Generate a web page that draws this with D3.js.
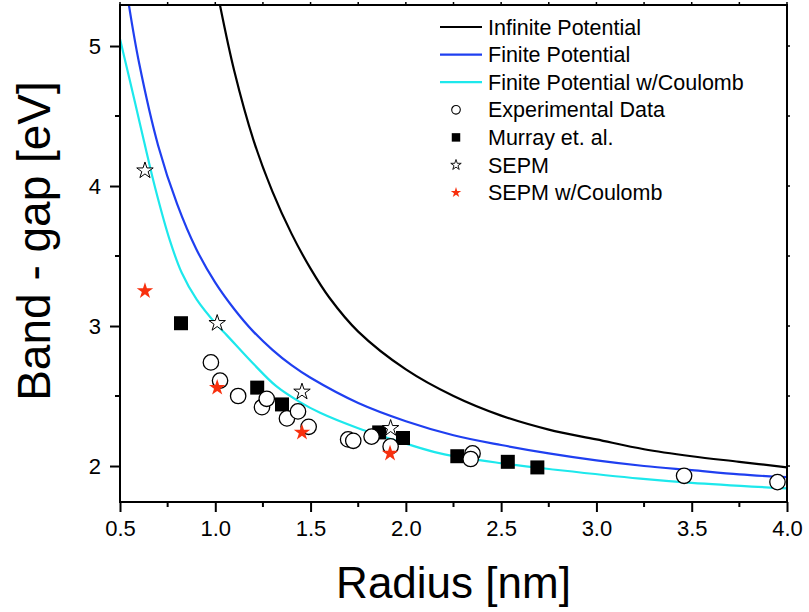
<!DOCTYPE html>
<html>
<head>
<meta charset="utf-8">
<script src="https://cdn.jsdelivr.net/npm/d3@7"></script>
<style>
  html, body { margin: 0; padding: 0; background: #fff; }
  svg { display: block; font-family: "Liberation Sans", Arial, Helvetica, sans-serif; }
</style>
</head>
<body>
<div id="chart"></div>
<script>
// Courbes théoriques (rayon en nm, gap en eV)
const infiniteR = [1.025, 1.1, 1.2, 1.3, 1.4, 1.5, 1.6, 1.75, 2.0, 2.25, 2.5, 2.75, 3.0, 3.25, 3.5, 3.75, 4.0];
const infiniteE = [5.29, 4.82, 4.33, 3.96, 3.66, 3.41, 3.20, 2.96, 2.69, 2.50, 2.36, 2.26, 2.19, 2.12, 2.07, 2.03, 1.99];

const finiteR = [0.547, 0.6, 0.7, 0.8, 0.9, 1.0, 1.1, 1.2, 1.3, 1.4, 1.5, 1.75, 2.0, 2.25, 2.5, 2.75, 3.0, 3.25, 3.5, 3.75, 4.0];
const finiteE = [5.29, 4.88, 4.29, 3.87, 3.55, 3.31, 3.12, 2.96, 2.83, 2.72, 2.63, 2.45, 2.32, 2.22, 2.15, 2.09, 2.04, 2.00, 1.97, 1.94, 1.92];

const coulombR = [0.5, 0.58, 0.626, 0.684, 0.762, 0.824, 0.902, 1.007, 1.06, 1.2, 1.32, 1.44, 1.55, 1.75, 2.0, 2.18, 2.5, 2.81, 3.23, 3.5, 4.0];
const coulombE = [5.05, 4.59, 4.32, 3.99, 3.61, 3.38, 3.19, 3.01, 2.935, 2.73, 2.57, 2.46, 2.38, 2.27, 2.16, 2.09, 2.02, 1.97, 1.91, 1.88, 1.84];

// Points expérimentaux
const expR = [0.977, 1.025, 1.12, 1.245, 1.27, 1.376, 1.434, 1.49, 1.697, 1.724, 1.82, 1.92, 2.35, 2.34, 3.46, 3.95];
const expE = [2.74, 2.61, 2.50, 2.42, 2.48, 2.34, 2.39, 2.28, 2.19, 2.18, 2.21, 2.14, 2.09, 2.05, 1.93, 1.885];

const murrayR = [0.82, 1.22, 1.35, 1.86, 1.985, 2.27, 2.535, 2.69];
const murrayE = [3.02, 2.56, 2.44, 2.24, 2.20, 2.07, 2.03, 1.99];

const sepmR = [0.631, 1.01, 1.455, 1.92];
const sepmE = [4.11, 3.02, 2.53, 2.27];

const sepmCR = [0.631, 1.01, 1.455, 1.917];
const sepmCE = [3.25, 2.56, 2.24, 2.09];

const xTicks = [0.5, 1.0, 1.5, 2.0, 2.5, 3.0, 3.5, 4.0];
const yTicks = [2, 3, 4, 5];

const legendLabels = ["Infinite Potential", "Finite Potential", "Finite Potential w/Coulomb",
  "Experimental Data", "Murray et. al.", "SEPM", "SEPM w/Coulomb"];

const width = 809, height = 612;
const margin = { left: 120, right: 22, top: 5, bottom: 110 };
const colBlack = "#000", colBlue = "#1f3ff0", colCyan = "#1de8ec", colRed = "#f8300e";

const svg = d3.select("#chart").append("svg")
  .attr("width", width)
  .attr("height", height);

const x = d3.scaleLinear().domain([0.5, 4.0]).range([margin.left, width - margin.right]);
const y = d3.scaleLinear().domain([1.743, 5.293]).range([height - margin.bottom, margin.top]);

const zip = (rs, es) => rs.map((r, i) => ({ r: r, e: es[i] }));

// Zone de découpe pour les courbes
svg.append("clipPath").attr("id", "clip")
  .append("rect")
  .attr("x", x.range()[0]).attr("y", y.range()[1])
  .attr("width", x.range()[1] - x.range()[0])
  .attr("height", y.range()[0] - y.range()[1]);

const line = d3.line().x(d => x(d.r)).y(d => y(d.e)).curve(d3.curveCatmullRom.alpha(0.5));

const curves = [
  { data: zip(infiniteR, infiniteE), color: colBlack },
  { data: zip(finiteR, finiteE), color: colBlue },
  { data: zip(coulombR, coulombE), color: colCyan }
];

const plot = svg.append("g").attr("clip-path", "url(#clip)");
curves.forEach(c => {
  plot.append("path")
    .datum(c.data)
    .attr("fill", "none")
    .attr("stroke", c.color)
    .attr("stroke-width", 2.2)
    .attr("d", line);
});

// Marqueurs
const starBig = d3.symbol().type(d3.symbolStar).size(84);
const squareBig = d3.symbol().type(d3.symbolSquare).size(196);

svg.append("g").selectAll("path")
  .data(zip(murrayR, murrayE))
  .join("path")
  .attr("transform", d => `translate(${x(d.r)},${y(d.e)})`)
  .attr("d", squareBig)
  .attr("fill", "#000");

svg.append("g").selectAll("circle")
  .data(zip(expR, expE))
  .join("circle")
  .attr("cx", d => x(d.r))
  .attr("cy", d => y(d.e))
  .attr("r", 7.7)
  .attr("fill", "#fff")
  .attr("stroke", "#000")
  .attr("stroke-width", 1.3);

svg.append("g").selectAll("path")
  .data(zip(sepmR, sepmE))
  .join("path")
  .attr("transform", d => `translate(${x(d.r)},${y(d.e)})`)
  .attr("d", starBig)
  .attr("fill", "#fff")
  .attr("stroke", "#000")
  .attr("stroke-width", 1);

svg.append("g").selectAll("path")
  .data(zip(sepmCR, sepmCE))
  .join("path")
  .attr("transform", d => `translate(${x(d.r)},${y(d.e)})`)
  .attr("d", starBig)
  .attr("fill", colRed);

// Axes
const xMinor = d3.range(0.5, 4.01, 0.25);
const yMinor = d3.range(2, 5.3, 0.5);

const axisBottom = d3.axisBottom(x).tickValues(xTicks).tickFormat(d3.format(".1f")).tickSize(10).tickPadding(8);
const axisLeft = d3.axisLeft(y).tickValues(yTicks).tickFormat(d3.format("d")).tickSize(10).tickPadding(9);

const gx = svg.append("g").attr("transform", `translate(0,${y.range()[0]})`).call(axisBottom);
const gy = svg.append("g").attr("transform", `translate(${x.range()[0]},0)`).call(axisLeft);

// Petites graduations
svg.append("g").selectAll("line").data(xMinor.filter(v => !xTicks.includes(v)))
  .join("line")
  .attr("x1", d => x(d)).attr("x2", d => x(d))
  .attr("y1", y.range()[0]).attr("y2", y.range()[0] + 5)
  .attr("stroke", "#000").attr("stroke-width", 2);
svg.append("g").selectAll("line").data(yMinor.filter(v => !yTicks.includes(v)))
  .join("line")
  .attr("y1", d => y(d)).attr("y2", d => y(d))
  .attr("x1", x.range()[0] - 5).attr("x2", x.range()[0])
  .attr("stroke", "#000").attr("stroke-width", 2);

// Axes haut et droite (graduations courtes)
svg.append("g").selectAll("line").data(xMinor)
  .join("line")
  .attr("x1", d => x(d)).attr("x2", d => x(d))
  .attr("y1", y.range()[1]).attr("y2", y.range()[1] - 3)
  .attr("stroke", "#000").attr("stroke-width", 1.5);
svg.append("g").selectAll("line").data(yMinor)
  .join("line")
  .attr("y1", d => y(d)).attr("y2", d => y(d))
  .attr("x1", x.range()[1]).attr("x2", x.range()[1] + 3)
  .attr("stroke", "#000").attr("stroke-width", 1.5);

svg.append("rect")
  .attr("x", x.range()[0]).attr("y", y.range()[1])
  .attr("width", x.range()[1] - x.range()[0])
  .attr("height", y.range()[0] - y.range()[1])
  .attr("fill", "none").attr("stroke", "#000").attr("stroke-width", 2);

[gx, gy].forEach(g => {
  g.select(".domain").remove();
  g.selectAll(".tick line").attr("stroke-width", 2);
  g.selectAll(".tick text").attr("font-size", 22).attr("fill", "#000")
    .attr("font-family", "'Liberation Sans', Arial, Helvetica, sans-serif");
});

// Titres des axes
svg.append("text")
  .attr("x", (x.range()[0] + x.range()[1]) / 2)
  .attr("y", 598)
  .attr("text-anchor", "middle")
  .attr("font-size", 44)
  .text("Radius [nm]");

svg.append("text")
  .attr("transform", `translate(50,241) rotate(-90)`)
  .attr("text-anchor", "middle")
  .attr("font-size", 46)
  .text("Band - gap [eV]");

// Légende
const legend = svg.append("g").attr("transform", "translate(440,27)");
const rowH = 27.6;
legendLabels.forEach((label, i) => {
  const row = legend.append("g").attr("transform", `translate(0,${i * rowH})`);
  if (i < 3) {
    row.append("line")
      .attr("x1", 0).attr("x2", 42).attr("y1", 0).attr("y2", 0)
      .attr("stroke", [colBlack, colBlue, colCyan][i]).attr("stroke-width", 2.2);
  } else if (i === 3) {
    row.append("circle").attr("cx", 16).attr("cy", 0).attr("r", 4.3)
      .attr("fill", "#fff").attr("stroke", "#000").attr("stroke-width", 1.1);
  } else if (i === 4) {
    row.append("path").attr("transform", "translate(16,0)")
      .attr("d", d3.symbol().type(d3.symbolSquare).size(72)).attr("fill", "#000");
  } else {
    row.append("path").attr("transform", "translate(16,0)")
      .attr("d", d3.symbol().type(d3.symbolStar).size(34))
      .attr("fill", i === 5 ? "#fff" : colRed)
      .attr("stroke", i === 5 ? "#000" : "none").attr("stroke-width", 0.9);
  }
  row.append("text")
    .attr("x", 48).attr("y", 0).attr("dy", "0.35em")
    .attr("font-size", 21.5)
    .text(label);
});
</script>
</body>
</html>
